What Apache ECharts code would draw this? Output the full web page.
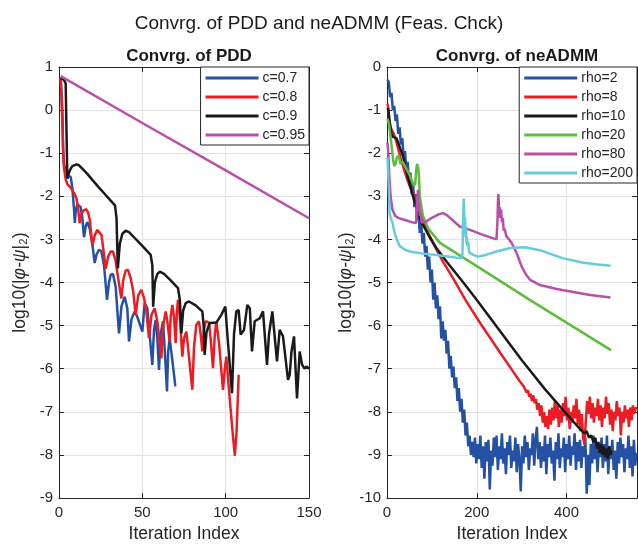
<!DOCTYPE html>
<html>
<head>
<meta charset="utf-8">
<script src="https://cdn.jsdelivr.net/npm/echarts@6/dist/echarts.min.js"></script>
<style>
html, body { margin: 0; padding: 0; background: #fff; }
#chart { width: 638px; height: 544px; }
</style>
</head>
<body>
<div id="chart"></div>
<script>
// left panel (PDD): [iteration, log10 residual]
var pddC07 = [[1,0.75],[2,0.0],[2.5,-0.9],[3,-1.25],[4,-1.45],[5,-1.52],[6,-1.5],[7,-1.55],[8,-1.8],[9,-2.3],[9.5,-2.62],[10,-2.35],[11,-2.18],[12,-2.15],[13,-2.25],[14,-2.5],[15,-2.95],[16,-2.7],[17,-2.6],[18.4,-2.74],[20,-3.1],[21.4,-3.55],[22.5,-3.35],[24,-3.24],[25.4,-3.27],[27,-3.6],[28.8,-4.4],[30,-4.0],[31,-3.82],[32.4,-3.8],[34,-4.1],[36,-5.18],[37.5,-4.55],[39.4,-4.33],[41,-4.6],[42,-5.37],[43.5,-4.85],[45.4,-4.67],[47,-4.8],[50,-5.14],[51.4,-4.48],[53,-4.6],[56,-5.91],[57,-5.1],[58,-4.87],[59,-5.3],[60,-6.03],[61,-5.2],[62.4,-4.9],[63.5,-5.6],[64.8,-6.53],[65.5,-5.6],[66.4,-5.29],[68,-5.8],[69.8,-6.41]];
var pddC08 = [[1,0.75],[1.5,0.3],[2,-0.3],[2.5,-1.0],[3,-1.35],[4,-1.6],[5,-1.72],[7,-1.8],[9,-1.92],[10.5,-2.05],[11.5,-2.3],[12.4,-2.62],[13.5,-2.4],[15,-2.32],[16.4,-2.3],[17.5,-2.38],[18.5,-2.55],[20,-3.15],[21.5,-2.9],[23,-2.78],[24,-2.76],[25.5,-2.9],[26.5,-3.2],[28,-3.68],[29.5,-3.4],[31,-3.28],[32.4,-3.28],[34,-3.5],[35.5,-3.9],[37.4,-4.37],[38.5,-3.95],[40,-3.72],[41.4,-3.71],[43,-3.9],[44.5,-4.2],[46,-4.75],[47.5,-4.3],[49.4,-4.17],[51,-4.35],[52.5,-4.7],[54,-5.29],[55.5,-4.75],[57.4,-4.6],[59,-4.9],[61.4,-5.76],[62.5,-5.0],[64,-4.67],[65,-4.9],[66.4,-5.37],[67,-4.8],[68,-4.52],[69,-4.8],[70,-5.41],[70.7,-4.7],[71.4,-4.4],[72.5,-4.8],[74,-5.72],[75,-5.3],[76.4,-5.14],[77.4,-5.5],[80,-6.49],[81,-5.5],[82.4,-4.98],[84,-4.9],[85,-5.2],[86,-5.6],[87,-5.1],[88,-4.9],[90,-4.93],[91,-5.3],[92.4,-5.99],[93.5,-5.2],[94.4,-4.9],[96,-5.4],[98.4,-6.49],[99.5,-6.0],[100.4,-5.72],[102,-6.5],[104,-7.4],[105.5,-8.02],[106.5,-7.5],[107.8,-6.14]];
var pddC09 = [[1,0.75],[2,0.72],[3,0.7],[4,0.62],[4.5,-0.5],[5,-1.59],[6,-1.45],[7,-1.36],[8,-1.3],[9,-1.27],[10.5,-1.26],[12,-1.28],[14,-1.36],[17,-1.48],[20,-1.62],[24,-1.8],[28,-1.97],[31,-2.1],[33.6,-2.21],[34.5,-2.5],[35.3,-3.67],[36.5,-3.1],[38,-2.87],[40,-2.8],[42,-2.83],[45,-2.95],[50,-3.15],[55,-3.36],[56,-3.6],[56.5,-4.56],[57.5,-4.0],[59,-3.8],[60.5,-3.75],[63,-3.8],[67,-3.95],[71.4,-4.13],[72.5,-4.4],[73.4,-5.18],[74.5,-4.65],[76,-4.48],[78,-4.44],[82,-4.53],[86,-4.67],[86.8,-5.0],[87.4,-5.68],[88.5,-5.15],[90.4,-4.94],[94.4,-4.93],[97.4,-4.75],[99.8,-4.56],[101,-5.2],[103.8,-6.57],[105,-5.2],[106.4,-4.67],[107.8,-4.64],[109,-5.21],[111,-5.1],[113,-4.52],[114.5,-4.6],[115.8,-5.6],[117.4,-4.9],[120.5,-4.83],[122.4,-4.67],[124.8,-5.91],[126,-5.2],[128,-4.67],[130.8,-5.83],[132.4,-5.1],[134.4,-5.25],[137.4,-6.26],[138.4,-6.15],[139.5,-5.6],[141,-5.25],[142.8,-6.69],[144.4,-5.6],[145.8,-5.9],[147.3,-6.0],[148.5,-5.95],[150,-6.0]];
var pddC095 = [[1,0.79],[50,-0.3],[100,-1.4],[150,-2.51]];

// right panel (neADMM)
var rho2Start = 1, rho2Step = 3;
var rho2Vals = [-0.30,-0.35,-0.70,-0.60,-1.00,-0.90,-1.25,-1.10,-1.55,-1.40,-1.80,-1.65,-2.10,-1.95,-2.40,-2.20,-2.65,-2.45,-2.95,-2.70,-3.25,-2.95,-3.55,-3.30,-3.85,-3.55,-4.10,-3.85,-4.40,-4.15,-4.70,-4.40,-5.00,-4.70,-5.40,-5.00,-5.60,-5.30,-5.85,-5.55,-6.30,-5.90,-6.35,-6.10,-6.65,-6.35,-7.00,-6.70,-7.20,-6.95,-7.45,-7.20,-7.75,-7.45,-8.00,-7.70,-8.25,-7.95,-8.55,-8.25,-8.80,-8.55,-9.00,
  -8.70,-9.05,-8.60,-9.20,-8.75,-9.10,-8.55,-9.30,-8.80,-9.55,-8.70,-9.15,-8.65,-9.80,-8.90,-9.25,-8.60,-9.05,-8.55,-9.35,-8.80,-9.10,-8.50,-9.20,-8.85,-9.45,-8.70,-9.00,-8.55,-9.30,-8.90,-9.15,-8.60,-9.40,-8.75,-9.10,-9.85,-8.80,-9.20,-8.55,-9.05,-8.70,-9.35,-8.85,-9.00,-8.50,-9.25,-8.65,-8.35,-9.10,-8.70,-9.30,-8.80,-9.15,-8.55,-9.45,-8.75,-9.05,-8.60,-9.20,-8.90,-9.60,-8.70,-9.10,-8.50,-9.30,-8.85,-9.05,-8.60,-9.40,-8.75,-9.10,-8.55,-9.25,-8.80,-9.00,-8.50,-9.35,-8.70,-9.15,-8.65,-9.30,-8.80,-9.05,-8.60,-9.90,-9.00,-9.70,-8.75,-9.20,-8.55,-9.10,-8.70,-9.40,-8.85,-9.05,-8.60,-9.30,-8.75,-9.15,-8.55,-9.45,-8.80,-9.10,-8.65,-9.35,-8.90,-9.55,-8.70,-9.20,-8.60,-9.05,-8.75,-9.40,-8.85,-9.10,-8.55,-9.30,-8.80,-9.50,-8.65,-9.25,-8.95];
var rho8Head = [[1,-0.85],[3,-0.95],[5,-1.2],[8,-1.4],[11,-1.47],[15,-1.55],[20,-1.7],[25,-1.9],[30,-2.1],[40,-2.45],[50,-2.75],[58,-2.93],[70,-3.25],[80,-3.55],[92,-3.85],[106,-4.15],[121,-4.45],[150,-4.95],[175,-5.41],[210,-5.98],[253,-6.64],[280,-7.05],[295,-7.28],[305,-7.42]];
var rho8TailStart = 308, rho8TailStep = 3;
var rho8Tail = [-7.45,-7.55,-7.50,-7.65,-7.58,-7.75,-7.62,-7.80,-7.70,-7.95,-7.80,-8.10,-7.85,-8.25,-8.00,-8.35,-8.10,-8.40,-7.95,-8.30,-7.90,-8.20,-7.75,-8.15,-7.85,-8.35,-7.95,-8.25,-7.80,-8.10,-7.65,-8.20,-7.90,-8.40,-8.00,-8.25,-7.85,-8.15,-7.70,-8.30,-7.95,-8.45,-8.05,-8.60,-8.75,-8.20,-7.75,-8.05,-7.65,-8.15,-7.80,-8.25,-7.90,-8.10,-7.70,-8.20,-7.85,-8.35,-7.90,-8.15,-7.65,-8.05,-7.80,-8.30,-7.95,-8.45,-8.00,-8.20,-7.75,-8.10,-7.90,-8.55,-8.00,-8.25,-7.85,-8.15,-7.95,-8.35,-7.90,-8.20,-7.85,-8.05,-7.90,-7.95];
var rho10 = [[1,-0.95],[3,-1.0],[6,-1.3],[10,-1.55],[13,-1.62],[17,-1.6],[21,-1.65],[28,-1.85],[36,-2.08],[45,-2.5],[58,-3.0],[77,-3.6],[95,-3.95],[110,-4.2],[133,-4.52],[170,-5.0],[201,-5.42],[250,-6.1],[300,-6.8],[350,-7.45],[400,-8.05],[430,-8.4],[440,-8.5],[445,-8.45],[450,-8.6],[455,-8.55],[460,-8.7],[464,-8.6],[468,-8.85],[471,-8.7],[474,-8.95],[477,-8.75],[480,-9.0],[483,-8.8],[486,-9.05],[489,-8.85],[492,-9.1],[495,-8.8],[498,-9.0],[500,-8.9]];
var rho20 = [[1,-1.2],[4,-1.3],[7,-1.55],[10,-1.8],[13,-2.1],[16,-2.3],[19,-2.25],[22,-2.1],[26,-2.05],[30,-2.25],[35,-2.2],[40,-2.3],[50,-2.5],[60,-2.75],[63,-2.7],[65,-2.4],[67,-2.25],[69,-2.3],[71,-2.5],[73,-3.0],[80,-3.45],[92,-3.75],[118,-4.08],[200,-4.62],[319,-5.41],[400,-5.93],[499,-6.57]];
var rho80 = [[1,-1.75],[3,-2.0],[5,-2.5],[8,-3.0],[12,-3.3],[18,-3.45],[25,-3.5],[40,-3.55],[55,-3.6],[65,-3.62],[66,-3.3],[67,-3.0],[68,-3.15],[69,-2.85],[70,-3.05],[71,-3.35],[72,-3.15],[73,-3.45],[75,-3.4],[77,-3.6],[85,-3.6],[100,-3.5],[115,-3.42],[125,-3.39],[135,-3.45],[162,-3.7],[185,-3.78],[215,-3.9],[244,-4.0],[246,-3.6],[247,-3.2],[248,-2.95],[249,-3.1],[250,-3.5],[251,-3.25],[252,-3.45],[254,-3.3],[256,-3.6],[258,-3.5],[260,-3.8],[262,-3.75],[266,-3.93],[272,-4.0],[278,-4.09],[289,-4.32],[300,-4.63],[310,-4.82],[319,-4.94],[341,-5.06],[378,-5.15],[415,-5.22],[453,-5.29],[498,-5.35]];
var rho200 = [[1,-2.1],[2,-2.3],[4,-2.8],[6,-3.4],[8,-3.5],[12,-3.6],[17,-3.86],[22,-4.0],[28,-4.15],[40,-4.24],[51,-4.28],[80,-4.33],[110,-4.36],[140,-4.4],[166,-4.44],[168,-4.35],[169,-3.9],[170,-3.4],[171,-3.05],[172,-3.4],[173,-3.8],[174,-3.5],[175,-3.95],[176,-3.7],[177,-4.1],[178,-3.95],[179,-4.15],[181,-4.05],[183,-4.3],[186,-4.33],[192,-4.36],[203,-4.4],[220,-4.36],[244,-4.28],[275,-4.2],[307,-4.18],[341,-4.25],[370,-4.36],[393,-4.44],[438,-4.54],[470,-4.58],[498,-4.61]];

var pddXTicks = [0, 50, 100, 150];
var pddYTicks = [-9, -8, -7, -6, -5, -4, -3, -2, -1, 0, 1];
var admmXTicks = [0, 200, 400];
var admmXMax = 557;
var admmYTicks = [-10, -9, -8, -7, -6, -5, -4, -3, -2, -1, 0];

var pddNames = ['c=0.7', 'c=0.8', 'c=0.9', 'c=0.95'];
var admmNames = ['rho=2', 'rho=8', 'rho=10', 'rho=20', 'rho=80', 'rho=200'];

function stepped(start, step, vals) {
    return vals.map(function (v, k) { return [start + k * step, v]; });
}

var FONT = 'Liberation Sans, Arial, sans-serif';
var INK = '#262626';
var GRIDC = '#e3e3e3';

function xAx(grid, ticks, max, top, name) {
    return {
        type: 'value', gridIndex: grid, position: top ? 'top' : 'bottom',
        min: ticks[0], max: max, interval: ticks[1] - ticks[0],
        axisLine: { show: true, onZero: false, lineStyle: { color: INK, width: 1 } },
        axisTick: { show: true, inside: true, length: 5, lineStyle: { color: INK } },
        axisLabel: { show: !top, fontSize: 15, color: INK, fontFamily: FONT, margin: 7, showMaxLabel: max === ticks[ticks.length - 1] },
        splitLine: { show: !top, lineStyle: { color: GRIDC, width: 1 } },
        name: top ? '' : name, nameLocation: 'middle', nameGap: 27,
        nameTextStyle: { fontSize: 17.5, color: INK, fontFamily: FONT }
    };
}

function yAx(grid, ticks, right) {
    return {
        type: 'value', gridIndex: grid, position: right ? 'right' : 'left',
        min: ticks[0], max: ticks[ticks.length - 1], interval: ticks[1] - ticks[0],
        axisLine: { show: true, onZero: false, lineStyle: { color: INK, width: 1 } },
        axisTick: { show: true, inside: true, length: 5, lineStyle: { color: INK } },
        axisLabel: { show: !right, fontSize: 15, color: INK, fontFamily: FONT, margin: 6 },
        splitLine: { show: !right, lineStyle: { color: GRIDC, width: 1 } },
        name: right ? '' : '{n|log10(|}{i|φ-ψ}{n||₂)}',
        nameLocation: 'middle', nameGap: 30, nameRotate: 90,
        nameTextStyle: {
            fontSize: 17.5, color: INK, fontFamily: FONT,
            rich: {
                n: { fontSize: 17.5, color: INK, fontFamily: FONT },
                i: { fontSize: 17.5, color: INK, fontFamily: FONT, fontStyle: 'italic' }
            }
        }
    };
}

function line(name, data, color, ax) {
    return {
        name: name, type: 'line', data: data, xAxisIndex: ax, yAxisIndex: ax,
        symbol: 'none', clip: true,
        lineStyle: { color: color, width: 2.5 },
        itemStyle: { color: color }
    };
}

function legendBox(names, right) {
    return {
        data: names, orient: 'vertical', right: right, top: 67,
        icon: 'rect', itemWidth: 53, itemHeight: 3, itemGap: 5,
        padding: [4, 4, 3, 5],
        backgroundColor: '#fff', borderColor: INK, borderWidth: 1, borderRadius: 0,
        textStyle: { fontSize: 14, color: INK, fontFamily: FONT, padding: [0, 0, 0, -1] }
    };
}

var chart = echarts.init(document.getElementById('chart'), null, { renderer: 'canvas' });

var option = {
    animation: false,
    backgroundColor: '#fff',
    title: [
        { text: 'Convrg. of PDD and neADMM (Feas. Chck)', left: 'center', top: 9,
          textStyle: { fontSize: 19, fontWeight: 'normal', color: '#1a1a1a', fontFamily: FONT } },
        { text: 'Convrg. of PDD', left: 184, top: 43, textAlign: 'center',
          textStyle: { fontSize: 17, fontWeight: 'bold', color: '#1a1a1a', fontFamily: FONT } },
        { text: 'Convrg. of neADMM', left: 512, top: 43, textAlign: 'center',
          textStyle: { fontSize: 17, fontWeight: 'bold', color: '#1a1a1a', fontFamily: FONT } }
    ],
    legend: [legendBox(pddNames, 329), legendBox(admmNames, 1)],
    grid: [
        { left: 59, top: 67, width: 250, height: 431, outerBoundsMode: 'none' },
        { left: 387, top: 67, width: 250, height: 431, outerBoundsMode: 'none' }
    ],
    xAxis: [
        xAx(0, pddXTicks, pddXTicks[pddXTicks.length - 1], false, 'Iteration Index'),
        xAx(0, pddXTicks, pddXTicks[pddXTicks.length - 1], true),
        xAx(1, admmXTicks, admmXMax, false, 'Iteration Index'),
        xAx(1, admmXTicks, admmXMax, true)
    ],
    yAxis: [yAx(0, pddYTicks, false), yAx(0, pddYTicks, true), yAx(1, admmYTicks, false), yAx(1, admmYTicks, true)],
    series: [
        line(pddNames[0], pddC07, '#2451a3', 0),
        line(pddNames[1], pddC08, '#ec1c24', 0),
        line(pddNames[2], pddC09, '#1a1a1a', 0),
        line(pddNames[3], pddC095, '#b84fa9', 0),
        line(admmNames[0], stepped(rho2Start, rho2Step, rho2Vals), '#2451a3', 2),
        line(admmNames[1], rho8Head.concat(stepped(rho8TailStart, rho8TailStep, rho8Tail)), '#ec1c24', 2),
        line(admmNames[2], rho10, '#1a1a1a', 2),
        line(admmNames[3], rho20, '#5dbd3f', 2),
        line(admmNames[4], rho80, '#b84fa9', 2),
        line(admmNames[5], rho200, '#66cbdc', 2)
    ]
};

chart.setOption(option);
</script>
</body>
</html>
